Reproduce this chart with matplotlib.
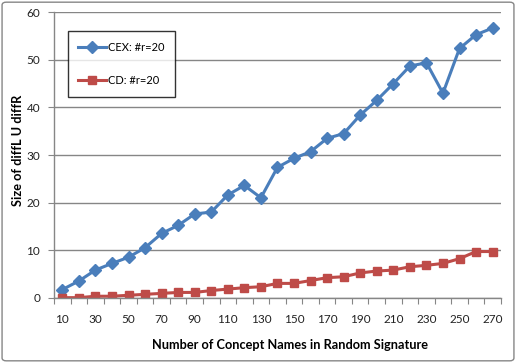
import matplotlib
matplotlib.use("Agg")
import matplotlib.pyplot as plt
from matplotlib.patches import FancyBboxPatch
import numpy as np

sizes = [10, 20, 30, 40, 50, 60, 70, 80, 90, 100, 110, 120, 130, 140,
         150, 160, 170, 180, 190, 200, 210, 220, 230, 240, 250, 260, 270]
cex = [1.7, 3.5, 5.8, 7.2, 8.5, 10.5, 13.5, 15.2, 17.6, 18.0, 21.6, 23.6, 21.0, 27.4,
       29.3, 30.7, 33.5, 34.5, 38.4, 41.5, 45.0, 48.7, 49.4, 43.0, 52.4, 55.3, 56.7]
cd = [0.0, 0.0, 0.3, 0.3, 0.5, 0.7, 0.9, 1.1, 1.1, 1.5, 1.8, 2.1, 2.3, 3.0,
      3.0, 3.6, 4.2, 4.4, 5.2, 5.6, 5.8, 6.5, 6.8, 7.2, 8.2, 9.7, 9.7]

plt.rcParams["font.family"] = ["Lato", "DejaVu Sans"]

fig = plt.figure(figsize=(5.16, 3.63), dpi=100)
ax = fig.add_axes([0.1047, 0.180, 0.866, 0.786])

# outer chart border
fig.patches.append(FancyBboxPatch((0.004, 0.006), 0.992, 0.988,
                                  boxstyle="round,pad=0,rounding_size=0.008",
                                  transform=fig.transFigure, fill=False,
                                  edgecolor="#868686", linewidth=1.0))

x = np.arange(1, len(sizes) + 1)
ax.plot(x, cex, color="#4A7EBB", linewidth=2.2, marker="D", markersize=5.8,
        markerfacecolor="#4A7EBB", markeredgecolor="#4A7EBB", label="CEX: #r=20")
ax.plot(x, cd, color="#BE4B48", linewidth=2.2, marker="s", markersize=6.4,
        markerfacecolor="#BE4B48", markeredgecolor="#BE4B48", label="CD: #r=20")

ax.set_xlim(0.5, len(sizes) + 0.5)
ax.set_ylim(0, 60)
ax.set_yticks(range(0, 61, 10))
ax.yaxis.grid(True, color="#868686", linewidth=1.0)
ax.set_axisbelow(True)

# category boundaries as tick marks, labels every other category
ax.set_xticks(np.arange(0.5, len(sizes) + 1, 1.0))
ax.set_xticklabels([])
ax.set_xticks(x[::2], minor=True)
ax.set_xticklabels([str(s) for s in sizes[::2]], minor=True)
ax.tick_params(axis="x", which="major", length=4, color="#868686", direction="out")
ax.tick_params(axis="x", which="minor", length=0, labelsize=8.5, pad=12, labelcolor="#222222")
ax.tick_params(axis="y", length=4, color="#868686", labelsize=8.5, pad=6, labelcolor="#222222")

for side in ("top", "right"):
    ax.spines[side].set_visible(False)
for side in ("left", "bottom"):
    ax.spines[side].set_color("#868686")
    ax.spines[side].set_linewidth(1.0)

ax.set_xlabel("Number of Concept Names in Random Signature", fontsize=9.2,
              fontweight="bold")
ax.xaxis.set_label_coords((290 - 54) / 447, (297.7 - 345) / 285.4)
ax.xaxis.label.set_va("center")
fig.text(18 / 516, 1 - 150 / 363, "Size of diffL U diffR", rotation=90,
         ha="center", va="center", fontsize=9.2, fontweight="bold")

leg = ax.legend(loc="upper left", bbox_to_anchor=(0.031, 0.934), fontsize=8,
                frameon=True, fancybox=False, edgecolor="black", handlelength=2.5,
                labelspacing=2.0, borderpad=0.95, handletextpad=0.2,
                borderaxespad=0)
leg.get_frame().set_linewidth(1.0)

fig.savefig("out.png", dpi=100)
